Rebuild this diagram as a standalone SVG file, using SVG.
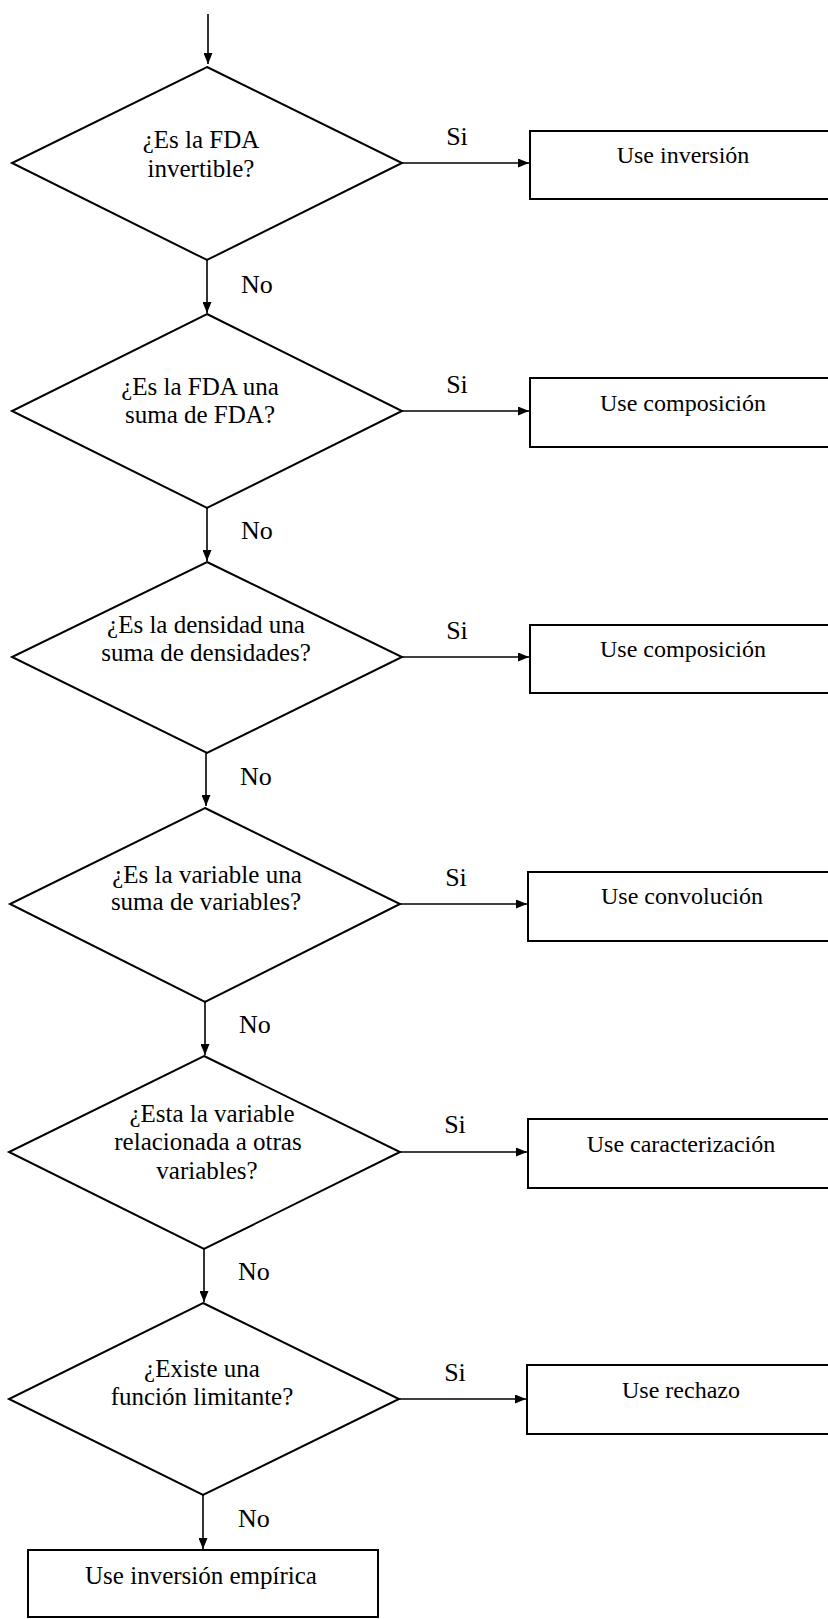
<svg xmlns="http://www.w3.org/2000/svg" width="828" height="1619" viewBox="0 0 828 1619" font-family="'Liberation Serif', 'DejaVu Serif', 'Times New Roman', serif">
<style>
text{font-family:'Liberation Serif','DejaVu Serif','Times New Roman',serif;fill:#000}
.t{font-size:24px;text-anchor:middle}
.d{font-size:25px;text-anchor:middle}
.l{font-size:26px}
.s{font-size:26px;text-anchor:middle}
.shape{fill:#fff;stroke:#000;stroke-width:2}
.c{stroke:#000;stroke-width:1.6;fill:none;marker-end:url(#ah)}
</style>
<defs>
<marker id="ah" markerUnits="userSpaceOnUse" markerWidth="11" markerHeight="9" refX="11" refY="4.5" orient="auto">
<path d="M0,0 L11,4.5 L0,9 Z" fill="#000"/>
</marker>
</defs>
<rect width="828" height="1619" fill="#fff"/>
<g id="connectors">
<line class="c" x1="208" y1="14" x2="208" y2="64"/>
<line class="c" x1="207" y1="260" x2="207" y2="313"/>
<line class="c" x1="402" y1="163" x2="529" y2="163"/>
<line class="c" x1="207" y1="508" x2="207" y2="561"/>
<line class="c" x1="402" y1="411" x2="529" y2="411"/>
<line class="c" x1="206" y1="753" x2="206" y2="806"/>
<line class="c" x1="402" y1="657" x2="529" y2="657"/>
<line class="c" x1="205" y1="1002" x2="205" y2="1055"/>
<line class="c" x1="400" y1="904" x2="527" y2="904"/>
<line class="c" x1="204" y1="1249" x2="204" y2="1302"/>
<line class="c" x1="400" y1="1152" x2="527" y2="1152"/>
<line class="c" x1="203" y1="1495" x2="203" y2="1549"/>
<line class="c" x1="399" y1="1399" x2="526" y2="1399"/>
<text class="l" x="241" y="293">No</text>
<text class="l" x="241" y="539">No</text>
<text class="l" x="240" y="785">No</text>
<text class="l" x="239" y="1033">No</text>
<text class="l" x="238" y="1280">No</text>
<text class="l" x="238" y="1527">No</text>
<text class="s" x="457" y="145">Si</text>
<text class="s" x="457" y="393">Si</text>
<text class="s" x="457" y="639">Si</text>
<text class="s" x="456" y="886">Si</text>
<text class="s" x="455" y="1133">Si</text>
<text class="s" x="455" y="1381">Si</text>
</g>
<g id="d1">
<polygon class="shape" points="207,67 402,163 207,260 12,163"/>
<text class="d" x="201" y="148">¿Es la FDA</text>
<text class="d" x="201" y="177">invertible?</text>
</g>
<g id="b1">
<rect class="shape" x="530" y="131" width="310" height="68"/>
<text class="t" x="683" y="163">Use inversión</text>
</g>
<g id="d2">
<polygon class="shape" points="207,314 402,411 207,508 12,411"/>
<text class="d" x="200" y="395">¿Es la FDA una</text>
<text class="d" x="200" y="423">suma de FDA?</text>
</g>
<g id="b2">
<rect class="shape" x="530" y="378" width="310" height="69"/>
<text class="t" x="683" y="411">Use composición</text>
</g>
<g id="d3">
<polygon class="shape" points="207,562 402,657 207,753 12,657"/>
<text class="d" x="206" y="633">¿Es la densidad una</text>
<text class="d" x="206" y="661">suma de densidades?</text>
</g>
<g id="b3">
<rect class="shape" x="530" y="625" width="310" height="68"/>
<text class="t" x="683" y="657">Use composición</text>
</g>
<g id="d4">
<polygon class="shape" points="205,808 400,904 205,1002 10,904"/>
<text class="d" x="207" y="883">¿Es la variable una</text>
<text class="d" x="206" y="910">suma de variables?</text>
</g>
<g id="b4">
<rect class="shape" x="528" y="872" width="312" height="69"/>
<text class="t" x="682" y="904">Use convolución</text>
</g>
<g id="d5">
<polygon class="shape" points="204,1056 400,1152 204,1249 9,1152"/>
<text class="d" x="212" y="1122">¿Esta la variable</text>
<text class="d" x="208" y="1150">relacionada a otras</text>
<text class="d" x="207" y="1179">variables?</text>
</g>
<g id="b5">
<rect class="shape" x="528" y="1119" width="312" height="69"/>
<text class="t" x="681" y="1152">Use caracterización</text>
</g>
<g id="d6">
<polygon class="shape" points="203,1303 399,1399 203,1495 9,1399"/>
<text class="d" x="202" y="1377">¿Existe una</text>
<text class="d" x="202" y="1405">función limitante?</text>
</g>
<g id="b6">
<rect class="shape" x="527" y="1365" width="313" height="69"/>
<text class="t" x="681" y="1398">Use rechazo</text>
</g>
<g id="b7">
<rect class="shape" x="28" y="1550" width="350" height="67"/>
<text class="d" x="201" y="1584">Use inversión empírica</text>
</g>
</svg>
